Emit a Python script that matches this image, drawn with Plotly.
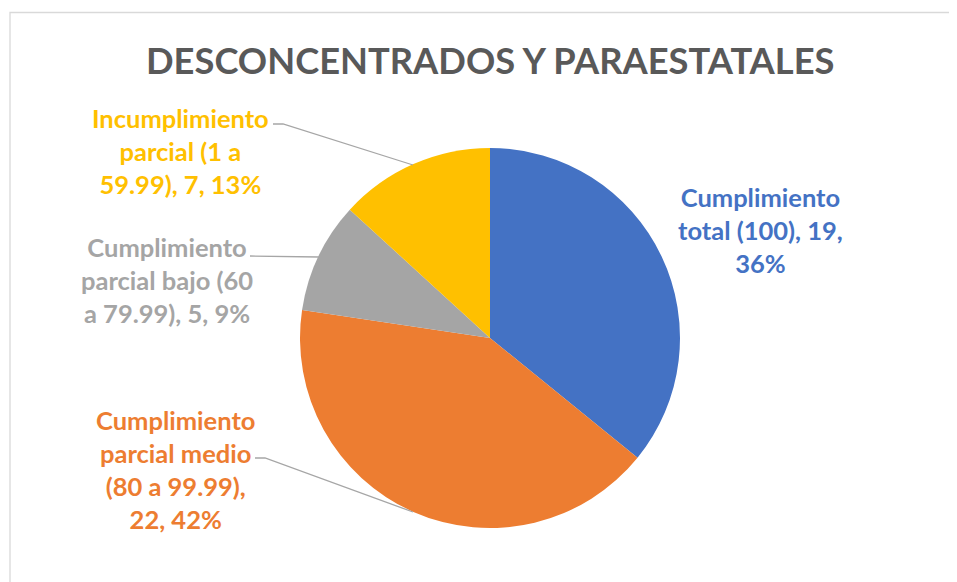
import plotly.graph_objects as go

W, H = 957, 582

categories = [
    "Cumplimiento total (100)",
    "Cumplimiento parcial medio (80 a 99.99)",
    "Cumplimiento parcial bajo (60 a 79.99)",
    "Incumplimiento parcial (1 a 59.99)",
]
values = [19, 22, 5, 7]
percent_labels = ["36%", "42%", "9%", "13%"]
colors = ["#4472C4", "#ED7D31", "#A5A5A5", "#FFC000"]
label_lines = [
    ["Cumplimiento", "total (100), 19,", "36%"],
    ["Cumplimiento", "parcial medio", "(80 a 99.99),", "22, 42%"],
    ["Cumplimiento", "parcial bajo (60", "a 79.99), 5, 9%"],
    ["Incumplimiento", "parcial (1 a", "59.99), 7, 13%"],
]
title_text = "DESCONCENTRADOS Y PARAESTATALES"

FONT = "Lato"
OFF = 8  # page body margin


def px(x):
    return (x - OFF) / W


def py(y):
    return 1 - (y - OFF) / H


cx, cy, r = 490, 338, 190

fig = go.Figure(
    go.Pie(
        labels=categories,
        values=values,
        marker=dict(colors=colors, line=dict(width=0)),
        sort=False,
        direction="clockwise",
        rotation=0,
        textinfo="none",
        hoverinfo="label+value+percent",
        showlegend=False,
        domain=dict(x=[px(cx - r), px(cx + r)], y=[py(cy + r), py(cy - r)]),
    )
)

# label anchor centres (pixels)
label_pos = [(760, 230), (175, 469), (167, 280), (180, 151)]
annotations = []
for lines, (lx, ly), col in zip(label_lines, label_pos, colors):
    annotations.append(
        dict(
            text="<br>".join(lines),
            x=px(lx), y=py(ly), xref="paper", yref="paper",
            xanchor="center", yanchor="middle", showarrow=False,
            align="center",
            font=dict(family=FONT, size=25.5, color=col, weight="bold"),
        )
    )

annotations.append(
    dict(
        text=title_text,
        x=px(490), y=py(60), xref="paper", yref="paper",
        xanchor="center", yanchor="middle", showarrow=False,
        font=dict(family=FONT, size=36.3, color="#595959", weight="bold"),
    )
)

leaders = [
    [(273, 124), (283, 124), (413, 165)],
    [(250, 256), (319, 257)],
    [(255, 458), (265, 458), (413, 512)],
]
shapes = []
for pts in leaders:
    path = "M " + " L ".join(f"{px(x)},{py(y)}" for x, y in pts)
    shapes.append(
        dict(type="path", path=path, xref="paper", yref="paper",
             line=dict(color="#A6A6A6", width=1.3))
    )

shapes.append(
    dict(type="rect", xref="paper", yref="paper",
         x0=px(10), x1=1.2, y0=-0.2, y1=py(12.5),
         line=dict(color="#D9D9D9", width=1.3), fillcolor="rgba(0,0,0,0)")
)

fig.update_layout(
    width=W, height=H,
    margin=dict(l=0, r=0, t=0, b=0),
    paper_bgcolor="white",
    plot_bgcolor="white",
    annotations=annotations,
    shapes=shapes,
)

fig.write_html("out.html")
